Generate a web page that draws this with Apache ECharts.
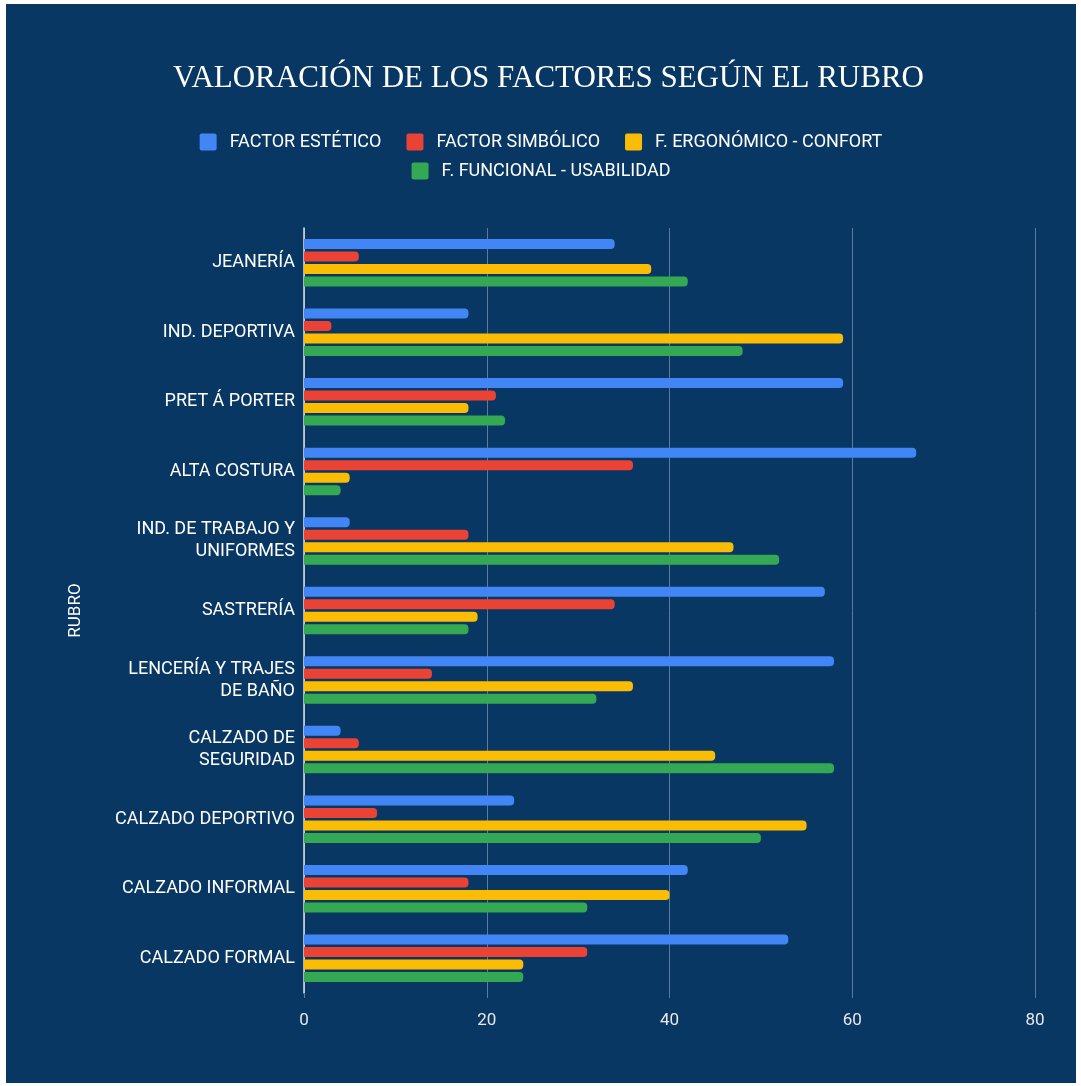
<html>
<head>
<meta charset="utf-8">
<script src="https://cdn.jsdelivr.net/npm/echarts@6/dist/echarts.min.js"></script>
</head>
<body>
<style>
  html, body { width: 100%; height: 100%; margin: 0; background: #ffffff; }
  #main { position: absolute; left: 6px; top: 4px; width: 1070px; height: 1079px; }
</style>
<div id="main"></div>
<script>
  var rubros = ['JEANERÍA', 'IND. DEPORTIVA', 'PRET Á PORTER', 'ALTA COSTURA',
    'IND. DE TRABAJO Y\nUNIFORMES', 'SASTRERÍA', 'LENCERÍA Y TRAJES\nDE BAÑO',
    'CALZADO DE\nSEGURIDAD', 'CALZADO DEPORTIVO', 'CALZADO INFORMAL', 'CALZADO FORMAL'];
  var estetico    = [34, 18, 59, 67, 5, 57, 58, 4, 23, 42, 53];
  var simbolico   = [6, 3, 21, 36, 18, 34, 14, 6, 8, 18, 31];
  var ergonomico  = [38, 59, 18, 5, 47, 19, 36, 45, 55, 40, 24];
  var funcional   = [42, 48, 22, 4, 52, 18, 32, 58, 50, 31, 24];
  var nombres = ['FACTOR ESTÉTICO', 'FACTOR SIMBÓLICO', 'F. ERGONÓMICO - CONFORT', 'F. FUNCIONAL - USABILIDAD'];
  var colores = ['#4285f4', '#ea4335', '#fbbc04', '#34a853'];
  var xTicks = [0, 20, 40, 60, 80];

  var datos = [estetico, simbolico, ergonomico, funcional];
  var series = datos.map(function (d, i) {
    return {
      name: nombres[i],
      type: 'bar',
      data: d,
      barWidth: 10,
      barGap: '25%',
      itemStyle: { color: colores[i], borderRadius: [0, 4, 4, 0] }
    };
  });

  // legend in two rows, like the original
  var legendBase = {
    left: 'center',
    itemWidth: 17,
    itemHeight: 17,
    itemGap: 25,
    icon: 'path://M2,0 H15 Q17,0 17,2 V15 Q17,17 15,17 H2 Q0,17 0,15 V2 Q0,0 2,0 Z',
    textStyle: { color: '#ffffff', fontSize: 18, padding: [0, 0, 0, 8] }
  };

  var chart = echarts.init(document.getElementById('main'));
  chart.setOption({
    backgroundColor: '#083763',
    animation: false,
    textStyle: { fontFamily: 'Roboto' },
    title: {
      text: 'VALORACIÓN DE LOS FACTORES SEGÚN EL RUBRO',
      left: 162,
      top: 54,
      textStyle: { color: '#ffffff', fontFamily: 'Liberation Serif', fontWeight: 'normal', fontSize: 31 }
    },
    legend: [
      Object.assign({}, legendBase, { top: 124, data: nombres.slice(0, 3) }),
      Object.assign({}, legendBase, { top: 153, data: nombres.slice(3) })
    ],
    grid: { left: 298, right: 41, top: 224, bottom: 90, containLabel: false },
    xAxis: {
      type: 'value',
      min: xTicks[0],
      max: xTicks[xTicks.length - 1],
      interval: 20,
      axisLine: { show: false },
      axisTick: { show: true, length: 5, lineStyle: { color: '#5a7a9e' } },
      axisLabel: { color: '#e8e8e8', fontSize: 17, margin: 19 },
      splitLine: { show: true, lineStyle: { color: '#5a7a9e', width: 1 } }
    },
    yAxis: {
      type: 'category',
      data: rubros,
      inverse: true,
      name: 'RUBRO',
      nameLocation: 'middle',
      nameGap: 220,
      nameRotate: 90,
      nameTextStyle: { color: '#ffffff', fontSize: 17 },
      axisLine: { show: true, lineStyle: { color: '#e0e0e0', width: 1.5 } },
      axisTick: { show: false },
      axisLabel: { color: '#ffffff', fontSize: 18, margin: 9, lineHeight: 22, align: 'right' }
    },
    series: series
  });
  window.onresize = chart.resize;
</script>
</body>
</html>
